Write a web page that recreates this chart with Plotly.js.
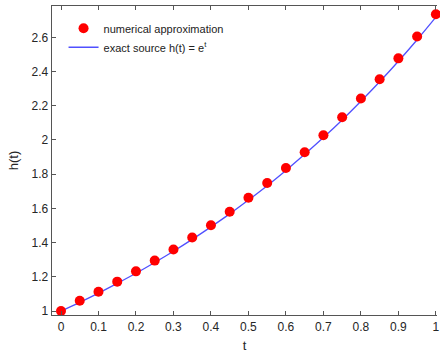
<!DOCTYPE html>
<html>
<head>
<meta charset="utf-8">
<script src="https://cdn.plot.ly/plotly-3.0.1.min.js"></script>
<style>html,body{margin:0;padding:0;background:#fff;}#chart{width:440px;height:355px;}</style>
</head>
<body>
<div id="chart"></div>
<script>
const tApprox = [0,0.05,0.1,0.15,0.2,0.25,0.3,0.35,0.4,0.45,0.5,0.55,0.6,0.65,0.7,0.75,0.8,0.85,0.9,0.95,1];
const hApprox = [1.0,1.06,1.113,1.172,1.232,1.295,1.36,1.43,1.502,1.58,1.662,1.748,1.836,1.928,2.028,2.133,2.242,2.355,2.477,2.605,2.735];
const tExact = [0,0.05,0.1,0.15,0.2,0.25,0.3,0.35,0.4,0.45,0.5,0.55,0.6,0.65,0.7,0.75,0.8,0.85,0.9,0.95,1];
const hExact = [1.0,1.051,1.105,1.162,1.221,1.284,1.35,1.419,1.492,1.568,1.649,1.733,1.822,1.916,2.014,2.117,2.226,2.34,2.46,2.586,2.718];
const xTicks = [0,0.1,0.2,0.3,0.4,0.5,0.6,0.7,0.8,0.9,1];
const xTickText = ['0','0.1','0.2','0.3','0.4','0.5','0.6','0.7','0.8','0.9','1'];
const yTicks = [1,1.2,1.4,1.6,1.8,2,2.2,2.4,2.6];
const yTickText = ['1','1.2','1.4','1.6','1.8','2','2.2','2.4','2.6'];

const font = {family: '"Liberation Sans", Arial, Helvetica, sans-serif', size: 12, color: '#262626'};
const data = [
  {x: tExact, y: hExact, mode: 'lines', type: 'scatter', name: 'exact source h(t) = e<sup>t</sup>',
   line: {color: '#5050ff', width: 1.3, shape: 'spline'}, cliponaxis: false},
  {x: tApprox, y: hApprox, mode: 'markers', type: 'scatter', name: 'numerical approximation',
   marker: {color: '#ff0000', size: 10, line: {width: 0}}, cliponaxis: false}
];
const layout = {
  width: 440, height: 355,
  margin: {l: 52, r: 3, t: 6, b: 40},
  paper_bgcolor: '#fff', plot_bgcolor: '#fff',
  font: font,
  showlegend: true,
  legend: {x: 0.03, y: 0.975, xanchor: 'left', yanchor: 'top', bgcolor: 'rgba(0,0,0,0)', traceorder: 'reversed',
           font: {family: font.family, size: 11, color: '#222'}, tracegroupgap: 0},
  xaxis: {range: [-0.024, 1.003], tickvals: xTicks, ticktext: xTickText, ticks: 'inside', ticklen: 4,
          tickcolor: '#555', showgrid: false, zeroline: false, showline: true, linecolor: '#555', linewidth: 1.3,
          mirror: 'ticks', title: {text: 't', font: {family: font.family, size: 13, color: '#262626'}, standoff: 8}},
  yaxis: {range: [0.977, 2.783], tickvals: yTicks, ticktext: yTickText, ticks: 'inside', ticklen: 4,
          tickcolor: '#555', showgrid: false, zeroline: false, showline: true, linecolor: '#555', linewidth: 1.3,
          title: {text: 'h(t)', font: {family: font.family, size: 13, color: '#262626'}, standoff: 10}}
};
Plotly.newPlot('chart', data, layout, {displayModeBar: false, staticPlot: true});
</script>
</body>
</html>
